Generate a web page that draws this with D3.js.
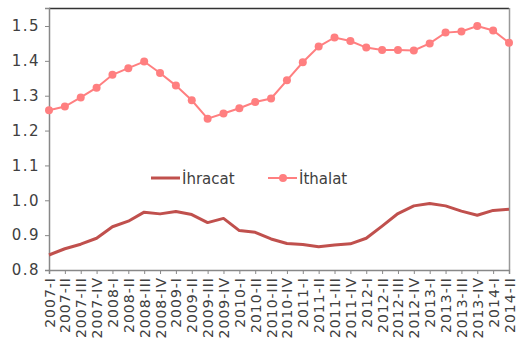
<!DOCTYPE html>
<html><head><meta charset="utf-8">
<script src="https://cdn.jsdelivr.net/npm/d3@7"></script>
<style>
html,body{margin:0;padding:0;background:#fff;}
svg text{font-family:"DejaVu Sans",sans-serif;fill:#404040;}
</style></head>
<body><svg id="c" width="519" height="342"></svg>
<script>
const categories = ["2007-I","2007-II","2007-III","2007-IV","2008-I","2008-II","2008-III","2008-IV",
"2009-I","2009-II","2009-III","2009-IV","2010-I","2010-II","2010-III","2010-IV",
"2011-I","2011-II","2011-III","2011-IV","2012-I","2012-II","2012-III","2012-IV",
"2013-I","2013-II","2013-III","2013-IV","2014-I","2014-II"];
const ihracat = [0.843,0.861,0.874,0.891,0.924,0.940,0.966,0.961,0.968,0.959,
0.936,0.948,0.913,0.908,0.889,0.876,0.873,0.867,0.872,0.875,
0.891,0.926,0.962,0.984,0.991,0.984,0.969,0.957,0.971,0.974];
const ithalat = [1.258,1.269,1.295,1.323,1.360,1.379,1.398,1.365,1.329,1.287,
1.234,1.249,1.264,1.282,1.292,1.344,1.396,1.441,1.467,1.457,
1.438,1.431,1.431,1.430,1.450,1.481,1.484,1.500,1.487,1.452];
const yTicks = [0.8,0.9,1.0,1.1,1.2,1.3,1.4,1.5];
const seriesNames = ["İhracat","İthalat"];

const svg = d3.select("#c");
const L=49,R=509,T=8,B=270;
const x = d3.scalePoint().domain(categories).range([L,R]).padding(0);
const y = d3.scaleLinear().domain([0.8,1.5516]).range([B,T]);

// frame top and right
svg.append("line").attr("x1",L).attr("x2",R).attr("y1",T+0.5).attr("y2",T+0.5).attr("stroke","#333").attr("stroke-width",1.5);
svg.append("line").attr("x1",R+0.5).attr("x2",R+0.5).attr("y1",T).attr("y2",B).attr("stroke","#999").attr("stroke-width",1.5);

const yAxis = svg.append("g").attr("transform",`translate(${L},0)`)
  .call(d3.axisLeft(y).tickValues(yTicks).tickFormat(d3.format(".1f")).tickSize(4).tickPadding(5));
yAxis.select(".domain").attr("stroke","#888").attr("stroke-width",1.5);
yAxis.selectAll(".tick line").attr("stroke","#888");
yAxis.selectAll("text").attr("font-size","15px").attr("letter-spacing","1.5px").attr("fill","#404040");

const xAxis = svg.append("g").attr("transform",`translate(0,${B})`)
  .call(d3.axisBottom(x).tickSize(4).tickPadding(3));
xAxis.select(".domain").attr("stroke","#888").attr("stroke-width",1.5);
xAxis.selectAll(".tick line").attr("stroke","#888");
xAxis.selectAll("text").attr("font-size","14px").attr("letter-spacing","1px").attr("fill","#404040")
  .attr("transform","rotate(-90)").attr("text-anchor","end").attr("dx","0").attr("dy","0").attr("x",-7).attr("y",0)
  .style("dominant-baseline","central");

const line = d3.line().x((d,i)=>x(categories[i])).y(d=>y(d));
svg.append("path").datum(ihracat).attr("d",line).attr("fill","none").attr("stroke","#c0504d").attr("stroke-width",3).attr("stroke-linejoin","round");
svg.append("path").datum(ithalat).attr("d",line).attr("fill","none").attr("stroke","#ff7f80").attr("stroke-width",2);
svg.selectAll("circle.m").data(ithalat).enter().append("circle").attr("class","m")
  .attr("cx",(d,i)=>x(categories[i])).attr("cy",d=>y(d)).attr("r",4).attr("fill","#ff7f80");

// legend
const lg = svg.append("g");
lg.append("line").attr("x1",151).attr("x2",180).attr("y1",178).attr("y2",178).attr("stroke","#c0504d").attr("stroke-width",3);
lg.append("text").attr("x",182).attr("y",184).attr("font-size","15px").text(seriesNames[0]);
lg.append("line").attr("x1",268).attr("x2",297).attr("y1",178).attr("y2",178).attr("stroke","#ff7f80").attr("stroke-width",2);
lg.append("circle").attr("cx",283).attr("cy",178).attr("r",4).attr("fill","#ff7f80");
lg.append("text").attr("x",299).attr("y",184).attr("font-size","15px").text(seriesNames[1]);
</script></body></html>
